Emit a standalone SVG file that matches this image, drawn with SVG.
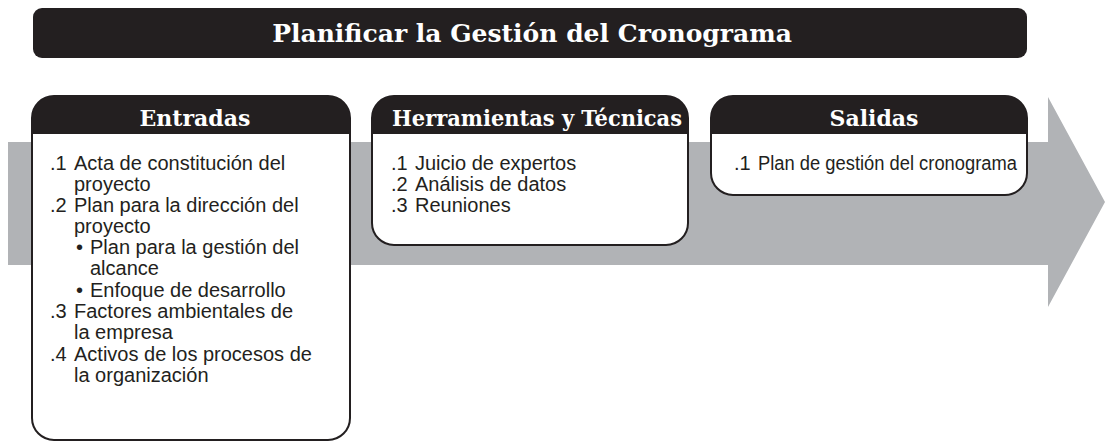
<svg xmlns="http://www.w3.org/2000/svg" width="1105" height="443" viewBox="0 0 1105 443">
<style>
.bar{fill:#231f20}
.head{fill:#231f20}
.box{fill:#ffffff;stroke:#231f20;stroke-width:2}
.ht{font-family:"DejaVu Serif",serif;font-weight:bold;fill:#ffffff;text-anchor:middle}
.bt{font-family:"Liberation Sans",Arial,sans-serif;font-size:20px;fill:#231f20}
</style>
<g id="arrow">
<polygon points="8,142 1048,142 1048,97 1105,202 1048,307 1048,265 8,265" fill="#b1b3b6"/>
</g>
<g id="title">
<rect x="33" y="8" width="994" height="50" rx="9" class="bar"/>
<text x="532" y="42" class="ht" font-size="25">Planificar la Gestión del Cronograma</text>
</g>
<g id="connectors"></g>
<g id="entradas">
<rect x="32" y="96" width="318" height="344" rx="22" class="box"/>
<path d="M32,134 V118 A22,22 0 0 1 54,96 H328 A22,22 0 0 1 350,118 V134 Z" class="head"/>
<text x="195" y="126" class="ht" font-size="22">Entradas</text>
<text class="bt">
<tspan x="50" y="170">.1</tspan><tspan x="74" y="170">Acta de constitución del</tspan>
<tspan x="74" y="191">proyecto</tspan>
<tspan x="50" y="212">.2</tspan><tspan x="74" y="212">Plan para la dirección del</tspan>
<tspan x="74" y="233">proyecto</tspan>
<tspan x="76" y="254">•</tspan><tspan x="90" y="254">Plan para la gestión del</tspan>
<tspan x="90" y="275">alcance</tspan>
<tspan x="76" y="297">•</tspan><tspan x="90" y="297">Enfoque de desarrollo</tspan>
<tspan x="50" y="318">.3</tspan><tspan x="74" y="318">Factores ambientales de</tspan>
<tspan x="74" y="339">la empresa</tspan>
<tspan x="50" y="361">.4</tspan><tspan x="74" y="361">Activos de los procesos de</tspan>
<tspan x="74" y="382">la organización</tspan>
</text>
</g>
<g id="herramientas">
<rect x="372" y="96" width="316" height="149" rx="22" class="box"/>
<path d="M372,134 V118 A22,22 0 0 1 394,96 H666 A22,22 0 0 1 688,118 V134 Z" class="head"/>
<text x="537" y="126" class="ht" font-size="22" textLength="290" lengthAdjust="spacingAndGlyphs">Herramientas y Técnicas</text>
<text class="bt">
<tspan x="391" y="170">.1</tspan><tspan x="415" y="170">Juicio de expertos</tspan>
<tspan x="391" y="191">.2</tspan><tspan x="415" y="191">Análisis de datos</tspan>
<tspan x="391" y="212">.3</tspan><tspan x="415" y="212">Reuniones</tspan>
</text>
</g>
<g id="salidas">
<rect x="711" y="96" width="316" height="99" rx="22" class="box"/>
<path d="M711,134 V118 A22,22 0 0 1 733,96 H1005 A22,22 0 0 1 1027,118 V134 Z" class="head"/>
<text x="874" y="126" class="ht" font-size="22">Salidas</text>
<text class="bt">
<tspan x="734" y="170">.1</tspan><tspan x="758" y="170" textLength="259" lengthAdjust="spacingAndGlyphs">Plan de gestión del cronograma</tspan>
</text>
</g>
</svg>
